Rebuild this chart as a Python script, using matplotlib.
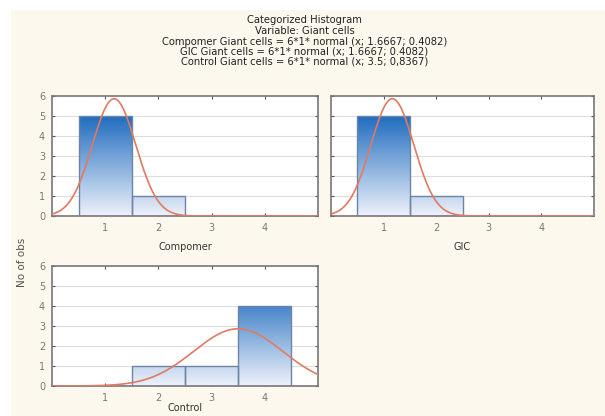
import numpy as np
import matplotlib
matplotlib.use("Agg")
import matplotlib.pyplot as plt
from matplotlib.patches import Rectangle
from matplotlib.colors import LinearSegmentedColormap

# ---- data ----
bin_centers = [1, 2, 3, 4]
compomer_counts = [5, 1, 0, 0]
gic_counts = [5, 1, 0, 0]
control_counts = [0, 1, 1, 4]
group_names = ["Compomer", "GIC", "Control"]
fit_means = [1.1667, 1.1667, 3.5]
fit_sds = [0.4082, 0.4082, 0.8367]
n_obs = 6
title_lines = [
    "Categorized Histogram",
    "Variable: Giant cells",
    "Compomer Giant cells = 6*1* normal (x; 1.6667; 0.4082)",
    "GIC Giant cells = 6*1* normal (x; 1.6667; 0.4082)",
    "Control Giant cells = 6*1* normal (x; 3.5; 0,8367)",
]
y_label = "No of obs"

W, H = 605, 416
fig = plt.figure(figsize=(W / 100, H / 100), dpi=100, facecolor="white")
cream = "#fdf8ee"
fig.patches.append(Rectangle((11 / W, 0), 1 - 11 / W, 1 - 10 / H,
                             transform=fig.transFigure, facecolor=cream,
                             edgecolor="none", zorder=-10))

title_y = [20, 31, 42, 52, 62]
for t, yy in zip(title_lines, title_y):
    fig.text(0.5 + 2 / W, 1 - yy / H, t, ha="center", va="center",
             fontsize=7.2, color="#222222", family="DejaVu Sans")

cmap = LinearSegmentedColormap.from_list("bar", ["#eef2fa", "#1e6bbf"])


def px(l, t, r, b):
    return [l / W, 1 - b / H, (r - l) / W, (b - t) / H]


positions = [px(52, 96, 318, 216), px(331, 96, 594, 216), px(52, 266, 318, 386)]
counts_all = [compomer_counts, gic_counts, control_counts]
label_y = [247, 247, 408]

for i, (pos, counts) in enumerate(zip(positions, counts_all)):
    ax = fig.add_axes(pos)
    ax.set_facecolor("white")
    ax.set_xlim(0, 5)
    ax.set_ylim(0, 6)
    ax.set_yticks(range(0, 7))
    ax.set_xticks([1, 2, 3, 4])
    for yv in range(1, 6):
        ax.axhline(yv, color="#dedede", lw=0.8, zorder=0)
    grad = np.linspace(0, 1, 256).reshape(-1, 1)
    for c, h in zip(bin_centers, counts):
        if h <= 0:
            continue
        rect = Rectangle((c - 0.5, 0), 1, h, facecolor="none",
                         edgecolor="#6d84a6", lw=1.0, zorder=3)
        ax.add_patch(rect)
        im = ax.imshow(grad * (h / 5.0), cmap=cmap, vmin=0, vmax=1,
                       origin="lower", extent=(c - 0.5, c + 0.5, 0, h),
                       aspect="auto", zorder=2, interpolation="bilinear")
        im.set_clip_path(rect)
    xs = np.linspace(0, 5, 400)
    mu, sd = fit_means[i], fit_sds[i]
    ys = n_obs * 1.0 / (sd * np.sqrt(2 * np.pi)) * np.exp(-0.5 * ((xs - mu) / sd) ** 2)
    ax.plot(xs, ys, color="#e07a62", lw=1.2, zorder=4, clip_on=True)
    ax.set_xlim(0, 5)
    ax.set_ylim(0, 6)
    for s in ax.spines.values():
        s.set_color("#7a7478")
        s.set_linewidth(1.2)
    ax.tick_params(direction="in", length=2.5, width=0.8, color="#555555",
                   top=True, right=True, labelsize=7, labelcolor="#777777",
                   pad=5)
    if i == 1:
        ax.tick_params(labelleft=False)
    fig.text((pos[0] + pos[2] / 2), 1 - label_y[i] / H, group_names[i],
             ha="center", va="center", fontsize=7, color="#333333")

fig.text(22 / W, 1 - 262 / H, y_label, rotation=90, ha="center", va="center",
         fontsize=7.5, color="#555555")

fig.savefig("out.png", dpi=100, facecolor="white")
